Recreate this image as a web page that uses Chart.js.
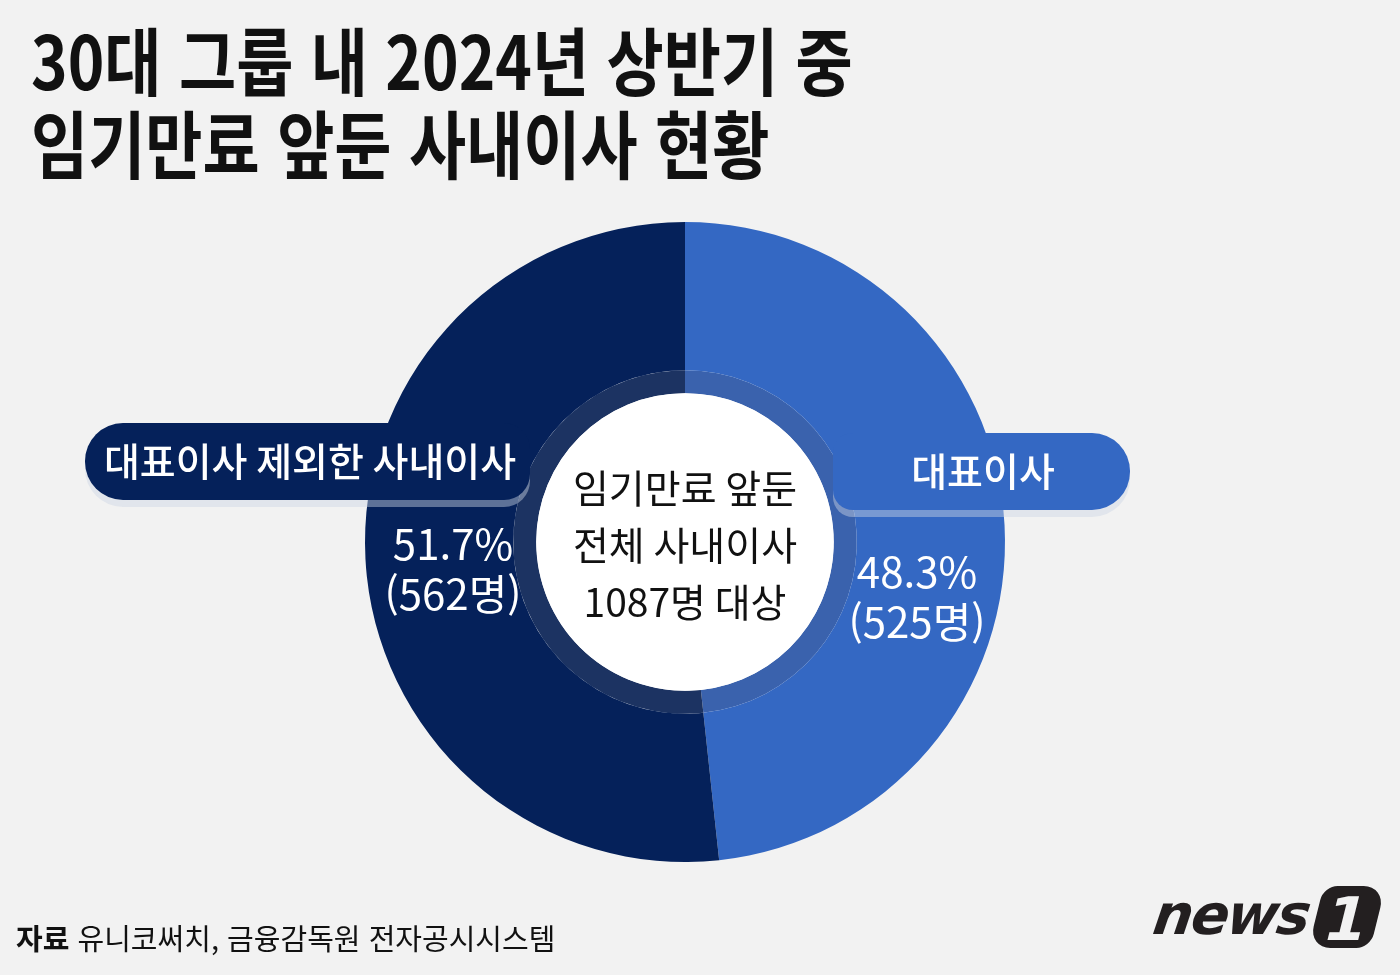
<!DOCTYPE html>
<html lang="ko">
<head>
<meta charset="utf-8">
<script src="https://cdn.jsdelivr.net/npm/chart.js@4.4.1/dist/chart.umd.min.js"></script>
<style>
  html, body { margin: 0; padding: 0; background: #f2f2f2; width: 1400px; height: 975px; overflow: hidden; }
  #wrap { position: relative; width: 1400px; height: 975px; }
  canvas { position: absolute; left: 0; top: 0; }
  #title { position: absolute; left: 31px; top: 16px; margin: 0; font-family: "Noto Sans CJK KR", sans-serif; font-weight: 700;
           font-size: 74px; line-height: 83px; color: #111; letter-spacing: 0; transform-origin: 0 0; transform: scaleX(0.84); white-space: nowrap; }
  #source { position: absolute; left: 16px; top: 916px; font-family: "Noto Sans CJK KR", sans-serif; font-size: 29px; line-height: 42px; color: #111; white-space: nowrap;
            transform-origin: 0 0; transform: scaleX(1.0); }
  #source b { font-weight: 700; }
  #logo { position: absolute; left: 1150px; top: 880px; width: 240px; height: 75px; }
  #logo .news { position: absolute; left: 4px; top: 2px; font-family: "DejaVu Sans", sans-serif; font-weight: 700; font-style: italic; font-size: 56px; color: #231f20; letter-spacing: -2px; transform: skewX(-8deg); }
  #logo .one { position: absolute; left: 166px; top: 6px; width: 62px; height: 62px; background: #231f20; border-radius: 14px 22px 14px 22px; transform: skewX(-14deg);
               color: #f2f2f2; font-family: "DejaVu Sans", sans-serif; font-weight: 700; font-size: 60px; line-height: 66px; text-align: center; }
</style>
</head>
<body>
<div id="wrap">
  <canvas id="c" width="1400" height="975"></canvas>
  <h1 id="title">30대 그룹 내 2024년 상반기 중<br>임기만료 앞둔 사내이사 현황</h1>
  <div id="source"><b>자료</b> 유니코써치, 금융감독원 전자공시시스템</div>
  <div id="logo"><span class="news">news</span><div class="one">1</div></div>
</div>
<script>
// ---- data ----
const categories = ['대표이사', '대표이사 제외한 사내이사'];
const counts = [525, 562];
const percents = [48.3, 51.7];
const centerLines = ['임기만료 앞둔', '전체 사내이사', '1087명 대상'];

// ---- styles ----
const outerColors = ['#3468c3', '#05215a'];
const ringColors = ['#3a62ad', '#1c3362'];

function roundRectPath(ctx, x, y, w, h, r) {
  ctx.beginPath();
  ctx.moveTo(x + r.tl, y);
  ctx.lineTo(x + w - r.tr, y);
  ctx.arcTo(x + w, y, x + w, y + r.tr, r.tr);
  ctx.lineTo(x + w, y + h - r.br);
  ctx.arcTo(x + w, y + h, x + w - r.br, y + h, r.br);
  ctx.lineTo(x + r.bl, y + h);
  ctx.arcTo(x, y + h, x, y + h - r.bl, r.bl);
  ctx.lineTo(x, y + r.tl);
  ctx.arcTo(x, y, x + r.tl, y, r.tl);
  ctx.closePath();
}

const annot = {
  id: 'annot',
  afterDatasetsDraw(chart) {
    const ctx = chart.ctx;
    const outer = chart.getDatasetMeta(0).data;
    const inner = chart.getDatasetMeta(1).data;
    const cx = outer[0].x, cy = outer[0].y;
    const rWhite = inner[0].innerRadius;
    ctx.save();
    // white center
    ctx.beginPath();
    ctx.arc(cx, cy, rWhite, 0, Math.PI * 2);
    ctx.fillStyle = '#ffffff';
    ctx.fill();

    // pills
    const pills = [
      { i: 1, x: cx - 600, y: cy - 119, w: 445, h: 77, r: { tl: 38, bl: 38, tr: 26, br: 26 }, tx: cx - 375 },
      { i: 0, x: cx + 148, y: cy - 109, w: 297, h: 77, r: { tl: 20, bl: 20, tr: 38, br: 38 }, tx: cx + 298 }
    ];
    pills.forEach(p => {
      roundRectPath(ctx, p.x, p.y + 7, p.w, p.h, p.r);
      ctx.fillStyle = 'rgba(205,212,228,0.45)';
      ctx.fill();
      roundRectPath(ctx, p.x, p.y, p.w, p.h, p.r);
      ctx.fillStyle = outerColors[p.i];
      ctx.fill();
      ctx.fillStyle = '#ffffff';
      ctx.font = '500 39px "Noto Sans CJK KR"';
      ctx.textAlign = 'center';
      ctx.textBaseline = 'middle';
      ctx.fillText(categories[p.i], p.tx, p.y + p.h / 2);
    });

    // values
    ctx.fillStyle = '#ffffff';
    ctx.textAlign = 'center';
    ctx.textBaseline = 'middle';
    const vals = [
      { i: 1, x: cx - 232, y: cy + 2 },
      { i: 0, x: cx + 232, y: cy + 30 }
    ];
    vals.forEach(v => {
      ctx.font = '400 42px "Noto Sans CJK KR"';
      ctx.fillText(percents[v.i].toFixed(1) + '%', v.x, v.y);
      ctx.fillText('(' + counts[v.i] + '명)', v.x, v.y + 50);
    });

    // center text
    ctx.fillStyle = '#111111';
    ctx.font = '400 39px "Noto Sans CJK KR"';
    centerLines.forEach((t, k) => ctx.fillText(t, cx, cy - 54 + k * 57));
    ctx.restore();
  }
};

new Chart(document.getElementById('c'), {
  type: 'doughnut',
  data: {
    labels: categories,
    datasets: [
      { data: counts, backgroundColor: outerColors, borderWidth: 0, weight: 148 },
      { data: counts, backgroundColor: ringColors, borderWidth: 0, weight: 23 }
    ]
  },
  options: {
    responsive: false,
    animation: false,
    cutout: '46.5%',
    rotation: 0,
    layout: { padding: { top: 222, bottom: 113, left: 365, right: 395 } },
    plugins: { legend: { display: false }, tooltip: { enabled: false }, title: { display: false } },
    events: []
  },
  plugins: [annot]
});
</script>
</body>
</html>
